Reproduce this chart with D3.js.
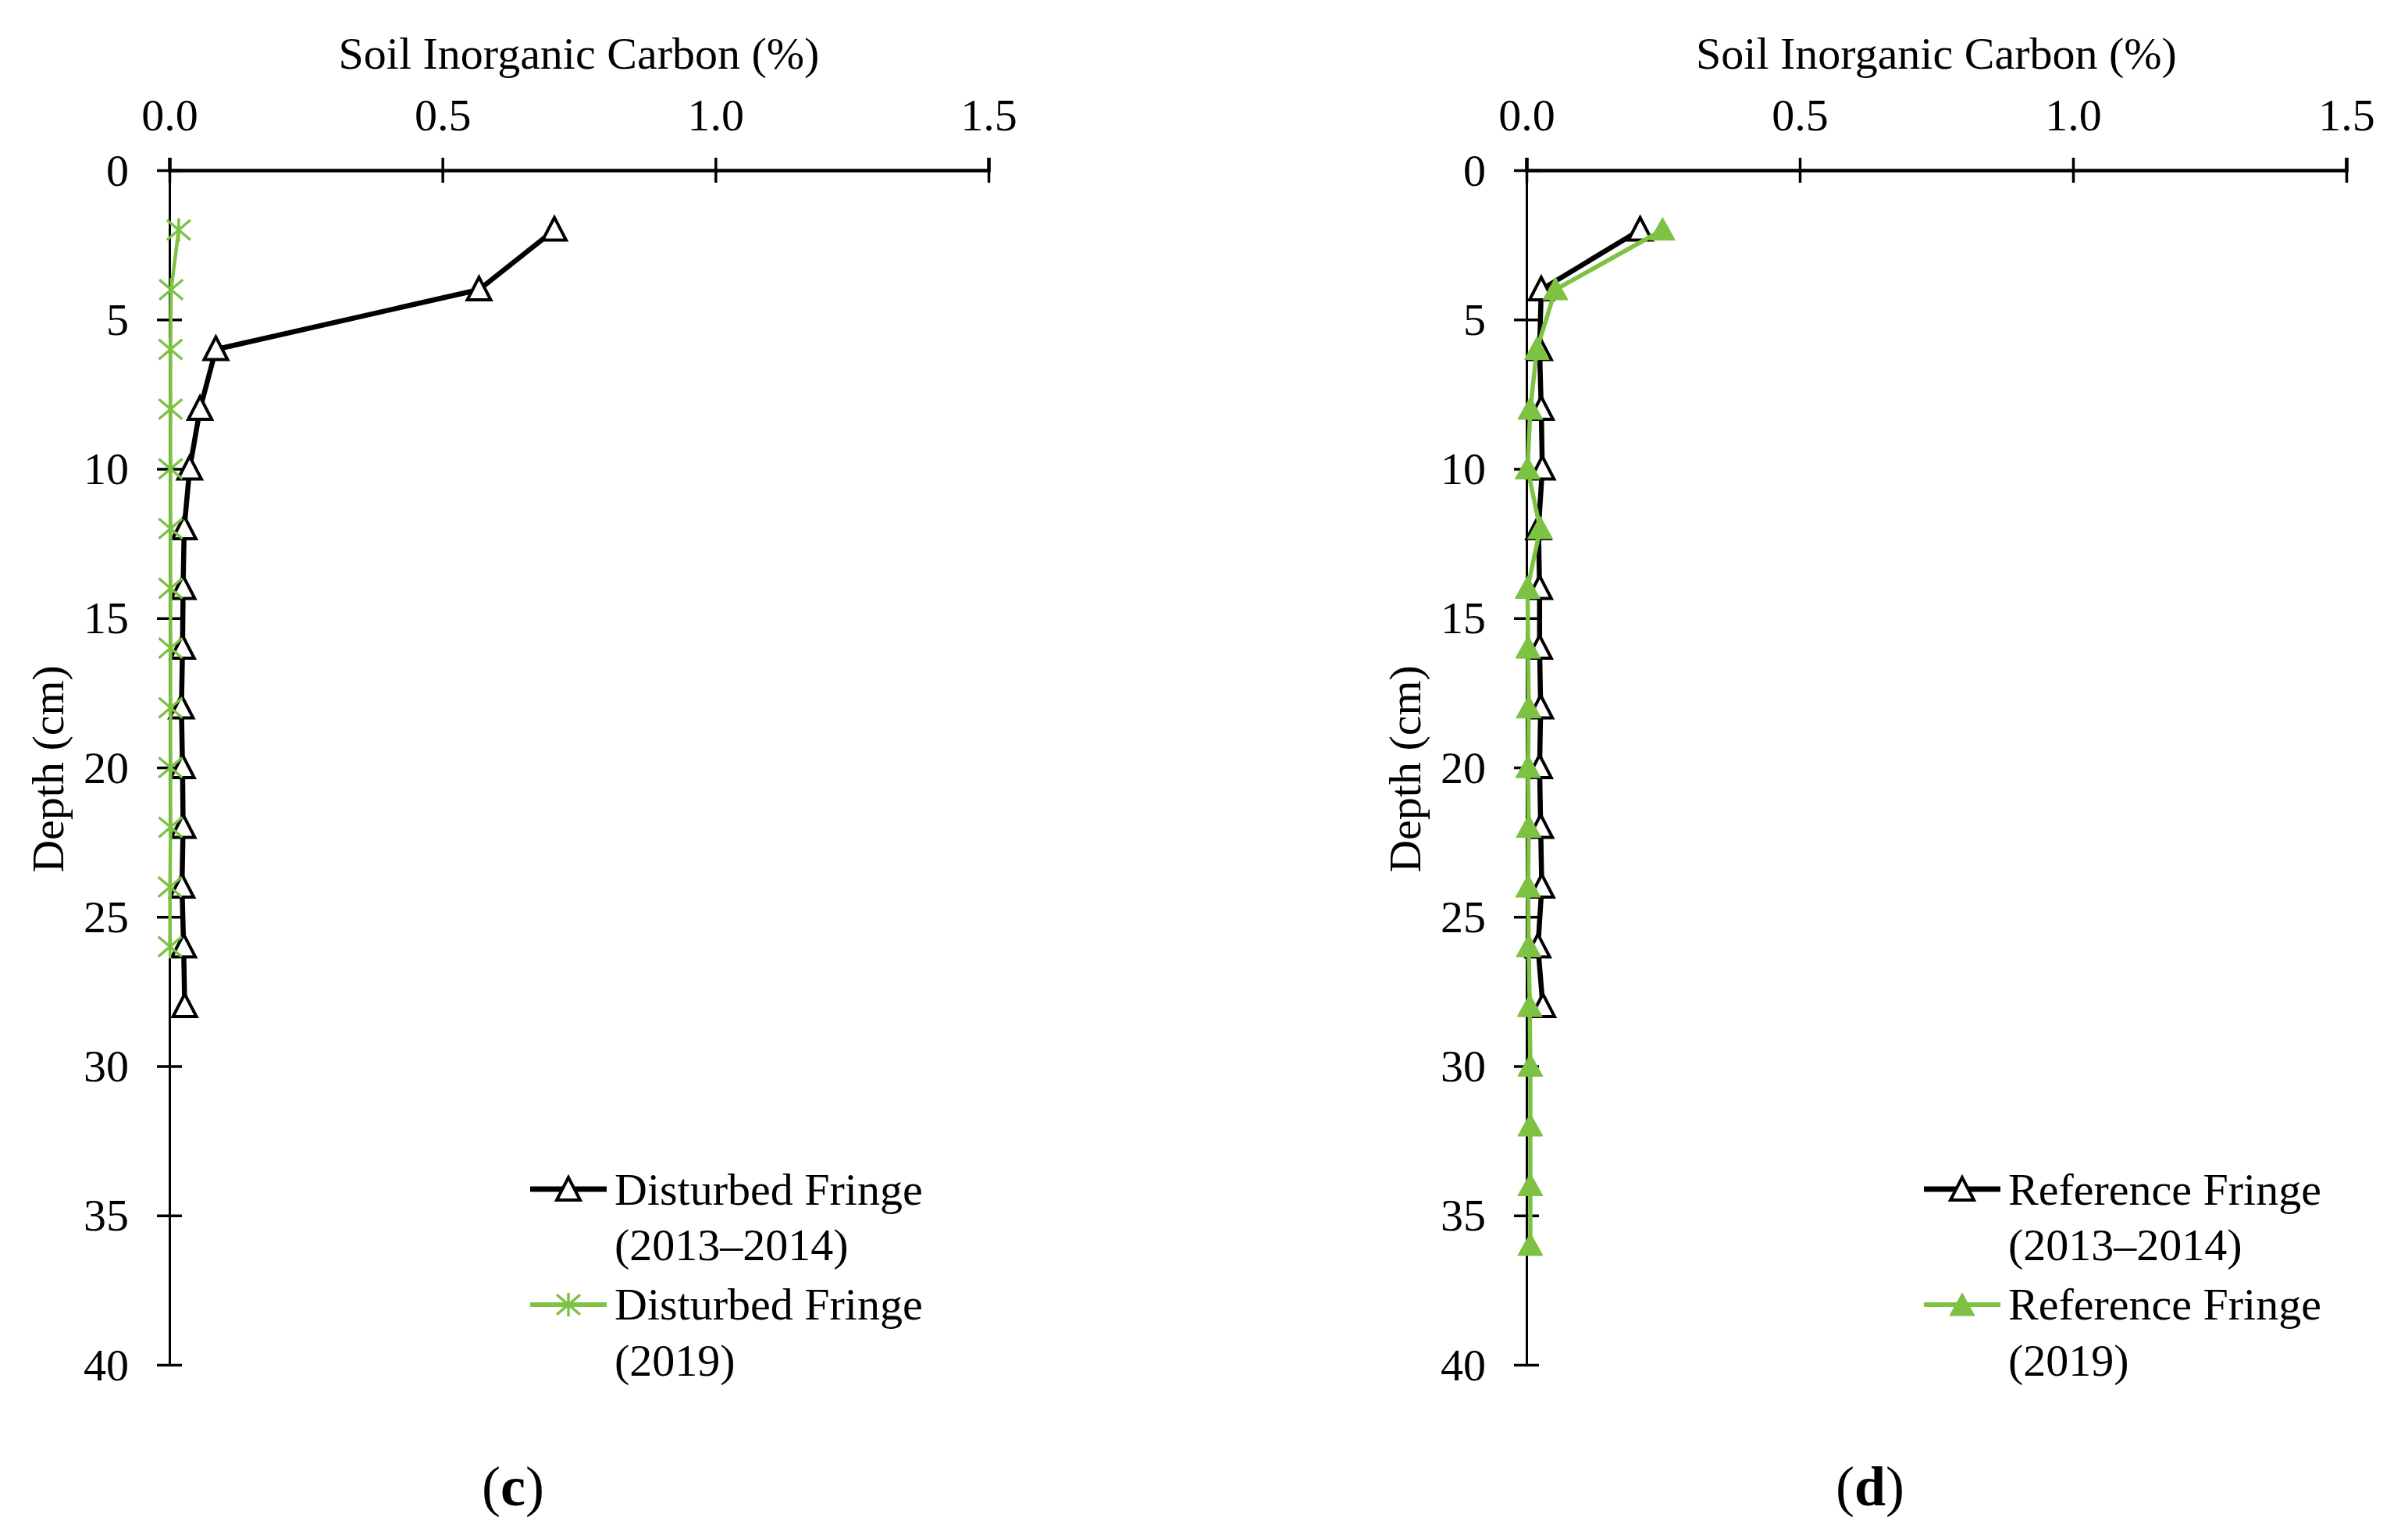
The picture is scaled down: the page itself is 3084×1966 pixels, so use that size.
<!DOCTYPE html>
<html>
<head>
<meta charset="utf-8">
<script src="https://cdn.jsdelivr.net/npm/d3@7"></script>
<style>
  html, body { margin: 0; padding: 0; background: #fff; }
  svg { display: block; }
  text { font-family: "Liberation Serif", "Times New Roman", serif; fill: #000; }
</style>
</head>
<body>
<svg id="chart" width="3084" height="1966"></svg>
<script>
// ---- Data ----
const xTicks = [0, 0.5, 1.0, 1.5];
const yTicks = [0, 5, 10, 15, 20, 25, 30, 35, 40];
const xTitle = "Soil Inorganic Carbon (%)";
const yTitle = "Depth (cm)";

// Panel (c): Disturbed Fringe
const depthDist1314 = [2, 4, 6, 8, 10, 12, 14, 16, 18, 20, 22, 24, 26, 28];
const sicDist1314   = [0.705, 0.567, 0.085, 0.056, 0.037, 0.027, 0.025, 0.024, 0.022, 0.024, 0.025, 0.023, 0.026, 0.028];
const depthDist2019 = [2, 4, 6, 8, 10, 12, 14, 16, 18, 20, 22, 24, 26];
const sicDist2019   = [0.017, 0.003, 0.002, 0.002, 0.002, 0.002, 0.002, 0.002, 0.002, 0.002, 0.002, 0.001, 0.001];

// Panel (d): Reference Fringe
const depthRef1314 = [2, 4, 6, 8, 10, 12, 14, 16, 18, 20, 22, 24, 26, 28];
const sicRef1314   = [0.208, 0.027, 0.024, 0.027, 0.029, 0.022, 0.024, 0.024, 0.026, 0.024, 0.026, 0.028, 0.021, 0.030];
const depthRef2019 = [2, 4, 6, 8, 10, 12, 14, 16, 18, 20, 22, 24, 26, 28, 30, 32, 34, 36];
const sicRef2019   = [0.249, 0.053, 0.019, 0.007, 0.002, 0.025, 0.002, 0.003, 0.004, 0.003, 0.004, 0.003, 0.004, 0.006, 0.007, 0.007, 0.007, 0.007];

const legendC = [["Disturbed Fringe", "(2013\u20132014)"], ["Disturbed Fringe", "(2019)"]];
const legendD = [["Reference Fringe", "(2013\u20132014)"], ["Reference Fringe", "(2019)"]];
const captions = ["c", "d"];

const GREEN = "#7DC242";
const FS = 58;

const svg = d3.select("#chart");

function zip(ds, vs) { return ds.map((d, i) => ({ depth: d, v: vs[i] })); }

function triangle(g, cx, cy, w, h, fill, stroke, sw) {
  g.append("path")
    .attr("d", `M${cx},${cy - h * 0.55} L${cx + w / 2},${cy + h * 0.45} L${cx - w / 2},${cy + h * 0.45} Z`)
    .attr("fill", fill).attr("stroke", stroke).attr("stroke-width", sw)
    .attr("stroke-linejoin", "miter");
}
function asterisk(g, cx, cy, s, color) {
  const r = s / 2;
  g.append("path")
    .attr("d", `M${cx - r},${cy - r * 0.85} L${cx + r},${cy + r * 0.85} M${cx - r},${cy + r * 0.85} L${cx + r},${cy - r * 0.85} M${cx},${cy - r} L${cx},${cy + r}`)
    .attr("stroke", color).attr("stroke-width", 3.5).attr("fill", "none");
}

function drawPanel(p) {
  const x = d3.scaleLinear().domain([0, 1.5]).range([p.x0, p.x1]);
  const y = d3.scaleLinear().domain([0, 40]).range([218, 1748]);
  const g = svg.append("g");

  // y axis
  const ya = g.append("g").attr("transform", `translate(${p.x0},0)`)
    .call(d3.axisLeft(y).tickValues(yTicks).tickSizeOuter(0).tickSize(16));
  ya.select(".domain").attr("stroke", "#000").attr("stroke-width", 3);
  ya.selectAll(".tick line").attr("x1", -16).attr("x2", 16).attr("stroke", "#000").attr("stroke-width", 3.5);
  ya.selectAll(".tick text").attr("x", -52).attr("dy", "0.33em")
    .attr("font-size", FS).attr("font-family", "Liberation Serif, Times New Roman, serif")
    .attr("text-anchor", "end").attr("fill", "#000");

  // x axis (top)
  const xa = g.append("g").attr("transform", `translate(0,${y(0)})`)
    .call(d3.axisTop(x).tickValues(xTicks).tickFormat(d3.format(".1f")).tickSizeOuter(0).tickSize(16));
  xa.select(".domain").attr("stroke", "#000").attr("stroke-width", 4.5);
  xa.selectAll(".tick line").attr("y1", -16).attr("y2", 16).attr("stroke", "#000").attr("stroke-width", 3.5);
  xa.selectAll(".tick text").attr("y", -51).attr("dy", "0")
    .attr("font-size", FS).attr("font-family", "Liberation Serif, Times New Roman, serif").attr("fill", "#000");

  // titles
  g.append("text").attr("x", (p.x0 + p.x1) / 2).attr("y", 88)
    .attr("text-anchor", "middle").attr("font-size", FS).text(xTitle);
  g.append("text").attr("transform", `translate(${p.x0 - 136},985) rotate(-90)`)
    .attr("text-anchor", "middle").attr("font-size", FS).text(yTitle);

  const line = d3.line().x(d => x(d.v)).y(d => y(d.depth));

  // series 1 (black, open triangles)
  const s1 = zip(p.d1, p.v1);
  g.append("path").datum(s1).attr("d", line)
    .attr("fill", "none").attr("stroke", "#000").attr("stroke-width", 6.5).attr("stroke-linejoin", "round");
  const m1 = g.append("g");
  s1.forEach(d => triangle(m1, x(d.v), y(d.depth), 30, 29, "#fff", "#000", 4));

  // series 2 (green)
  const s2 = zip(p.d2, p.v2);
  g.append("path").datum(s2).attr("d", line)
    .attr("fill", "none").attr("stroke", GREEN).attr("stroke-width", p.filled ? 5.5 : 4.5).attr("stroke-linejoin", "round");
  const m2 = g.append("g");
  s2.forEach(d => {
    if (p.filled) triangle(m2, x(d.v), y(d.depth), 32, 29, GREEN, GREEN, 1);
    else asterisk(m2, x(d.v), y(d.depth), 30, GREEN);
  });

  // legend
  const L = p.legend;
  const lg = g.append("g");
  const mx = (p.lx0 + p.lx1) / 2;
  // entry 1
  lg.append("line").attr("x1", p.lx0).attr("x2", p.lx1).attr("y1", 1523).attr("y2", 1523)
    .attr("stroke", "#000").attr("stroke-width", 7);
  triangle(lg, mx, 1524, 30, 29, "#fff", "#000", 4);
  lg.append("text").attr("x", p.lx1 + 10).attr("y", 1543).attr("font-size", FS).text(L[0][0]);
  lg.append("text").attr("x", p.lx1 + 10).attr("y", 1614).attr("font-size", FS).text(L[0][1]);
  // entry 2
  lg.append("line").attr("x1", p.lx0).attr("x2", p.lx1).attr("y1", 1671).attr("y2", 1671)
    .attr("stroke", GREEN).attr("stroke-width", 6);
  if (p.filled) triangle(lg, mx, 1672, 32, 29, GREEN, GREEN, 1);
  else asterisk(lg, mx, 1671, 30, GREEN);
  lg.append("text").attr("x", p.lx1 + 10).attr("y", 1690).attr("font-size", FS).text(L[1][0]);
  lg.append("text").attr("x", p.lx1 + 10).attr("y", 1762).attr("font-size", FS).text(L[1][1]);

  // caption
  const cap = g.append("text").attr("x", p.capX).attr("y", 1928)
    .attr("text-anchor", "middle").attr("font-size", 72);
  cap.append("tspan").text("(");
  cap.append("tspan").attr("font-weight", "bold").text(p.caption);
  cap.append("tspan").text(")");
}

drawPanel({ x0: 217, x1: 1266, d1: depthDist1314, v1: sicDist1314, d2: depthDist2019, v2: sicDist2019,
  filled: false, legend: legendC, lx0: 679, lx1: 777, capX: 657, caption: captions[0] });
drawPanel({ x0: 1955, x1: 3005, d1: depthRef1314, v1: sicRef1314, d2: depthRef2019, v2: sicRef2019,
  filled: true, legend: legendD, lx0: 2464, lx1: 2562, capX: 2395, caption: captions[1] });
</script>
</body>
</html>
